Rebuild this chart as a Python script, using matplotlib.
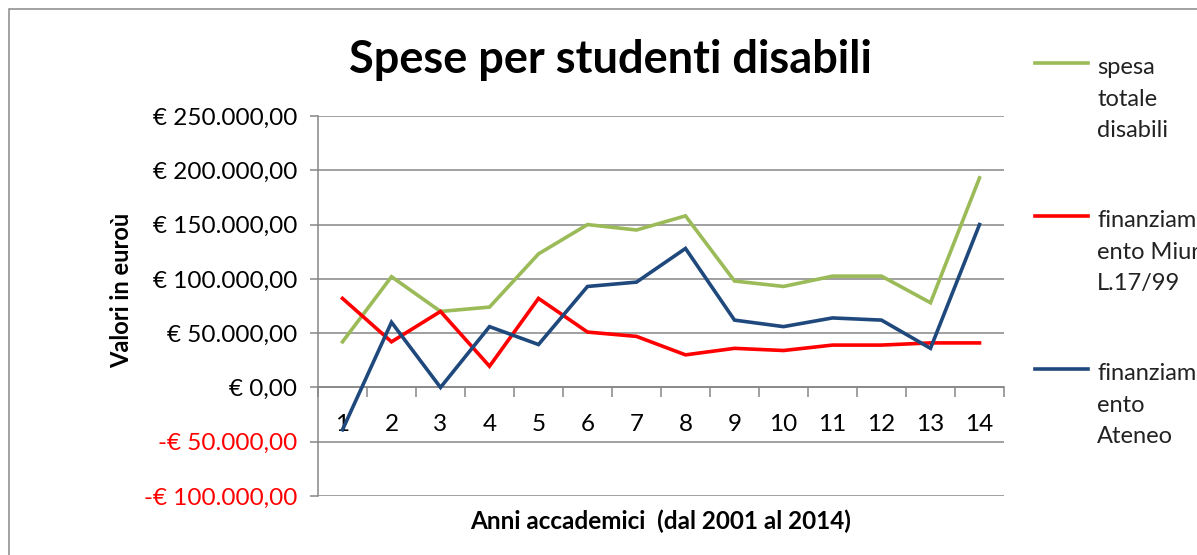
import matplotlib.pyplot as plt
from matplotlib.lines import Line2D
from matplotlib.patches import Rectangle
from matplotlib.ticker import FixedLocator

plt.rcParams['font.family'] = ['Lato', 'DejaVu Sans']

# dati (valori in euro)
anni = list(range(1, 15))
spesa_totale = [42000, 102000, 70000, 74000, 123000, 150000, 145000,
                158000, 98000, 93000, 102500, 102500, 78000, 193000]
fin_miur = [82000, 42000, 70000, 19500, 82000, 51000, 47000,
            30000, 36000, 34000, 39000, 39000, 41000, 41000]
fin_ateneo = [-39000, 60000, 0, 56000, 39500, 93000, 97000,
              128000, 62000, 56000, 64000, 62000, 36000, 150000]

y_ticks = [-100000, -50000, 0, 50000, 100000, 150000, 200000, 250000]
y_labels = ['-€ 100.000,00', '-€ 50.000,00', '€ 0,00', '€ 50.000,00',
            '€ 100.000,00', '€ 150.000,00', '€ 200.000,00', '€ 250.000,00']

serie = [
    ('spesa\ntotale\ndisabili', spesa_totale, '#9BBB59'),
    ('finanziam\nento Miur\nL.17/99', fin_miur, '#FF0000'),
    ('finanziam\nento\nAteneo', fin_ateneo, '#1F497D'),
]

W, H = 1197, 555
grigio = '#868686'

fig = plt.figure(figsize=(W / 100, H / 100), dpi=100)
ax = fig.add_axes([318 / W, 1 - 496 / H, (1004 - 318) / W, (496 - 116) / H])

# linee delle serie
for nome, valori, colore in serie:
    ax.plot(anni, valori, color=colore, lw=2.6, zorder=3,
            solid_joinstyle='miter')

ax.set_xlim(0.5, 14.5)
ax.set_ylim(-100000, 250000)

# asse y
ax.set_yticks(y_ticks)
ax.set_yticklabels(y_labels)
for t, v in zip(ax.get_yticklabels(), y_ticks):
    t.set_color('#FF0000' if v < 0 else 'black')
ax.tick_params(axis='y', direction='out', length=6, width=1.1,
               color=grigio, pad=9, labelsize=17.5)

# asse x sullo zero, tacche tra le categorie
ax.set_xticks(anni)
ax.set_xticklabels([str(a) for a in anni])
ax.xaxis.set_minor_locator(FixedLocator([a + 0.5 for a in range(0, 15)]))
ax.tick_params(axis='x', which='major', length=0, pad=19, labelsize=17.5)
ax.tick_params(axis='x', which='minor', direction='out', length=7,
               width=1.1, color=grigio)

ax.spines['bottom'].set_position(('data', 0))
ax.spines['bottom'].set_color(grigio)
ax.spines['bottom'].set_linewidth(1.1)
ax.spines['left'].set_color(grigio)
ax.spines['left'].set_linewidth(1.1)
ax.spines['top'].set_visible(False)
ax.spines['right'].set_visible(False)

ax.yaxis.grid(True, color=grigio, lw=1.1)
ax.set_axisbelow(True)

# titoli
fig.text(610 / W, 1 - 60 / H, 'Spese per studenti disabili',
         fontsize=32.5, fontweight='bold', ha='center', va='center')
fig.text(122 / W, 1 - 290 / H, 'Valori in euroù', fontsize=17,
         fontweight='bold', rotation=90, ha='center', va='center')
fig.text(661 / W, 1 - 521 / H, 'Anni accademici  (dal 2001 al 2014)',
         fontsize=17.5, fontweight='bold', ha='center', va='center')

# legenda a destra, tagliata dal bordo come nell'originale
for i, (nome, valori, colore) in enumerate(serie):
    y_lin = 63 + 153 * i
    fig.add_artist(Line2D([1035 / W, 1088 / W], [1 - y_lin / H] * 2,
                          transform=fig.transFigure, color=colore, lw=2.6))
    fig.text(1097 / W, 1 - (y_lin - 6) / H, nome, fontsize=17,
             ha='left', va='top', linespacing=1.63, color='#222222')

# cornice del grafico
fig.add_artist(Rectangle((9 / W, -0.1), 1.2, 1.1 - 9 / H,
                         transform=fig.transFigure, fill=False,
                         ec='#898989', lw=1.1))

fig.savefig('out.png', dpi=100)
